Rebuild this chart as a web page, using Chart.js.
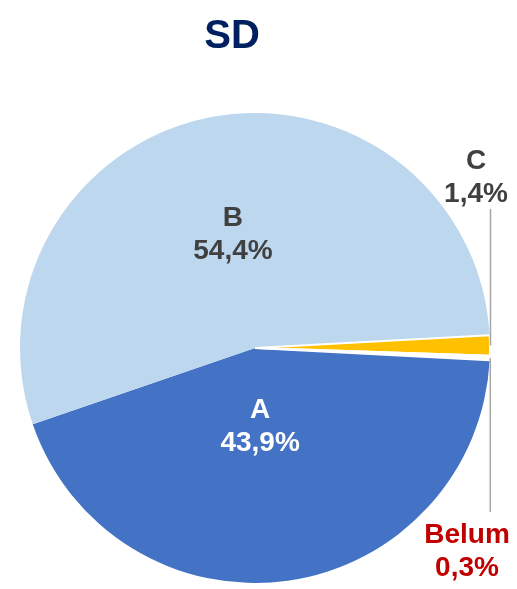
<!DOCTYPE html>
<html>
<head>
<meta charset="utf-8">
<script src="https://cdn.jsdelivr.net/npm/chart.js@4"></script>
<style>
  html, body { margin: 0; padding: 0; background: #fff; }
  #wrap { width: 517px; height: 589px; }
</style>
</head>
<body>
<div id="wrap"><canvas id="sdChart" width="517" height="589"></canvas></div>
<script>
// data
const titleText  = 'SD';
const categories = ['A', 'B', 'C', 'Belum'];
const values     = [43.9, 54.4, 1.4, 0.3];
const valueText  = ['43,9%', '54,4%', '1,4%', '0,3%'];

const sliceColors = ['#4472C4', '#BDD7EE', '#FFC000', '#FFFFFF'];
const sliceBorder = [0, 0, 2, 2];
const labelColors = ['#FFFFFF', '#404040', '#404040', '#C00000'];
const FONT = '"Liberation Sans", Arial, sans-serif';

// label placement per slice: inside ones use a radius fraction,
// outside ones sit beside a vertical leader line
const labelPlace = [
  { inside: true,  r: 0.34, dx: -6 },
  { inside: true,  r: 0.49, dx: 0 },
  { inside: false, x: 476, y: 178, lineTo: 209 },
  { inside: false, x: 467, y: 552, lineTo: 512 }
];

const labelPlugin = {
  id: 'sliceLabels',
  afterDraw(chart) {
    const ctx  = chart.ctx;
    const arcs = chart.getDatasetMeta(0).data;

    ctx.save();
    // title
    ctx.font = 'bold 40px ' + FONT;
    ctx.fillStyle = '#002060';
    ctx.textAlign = 'center';
    ctx.textBaseline = 'alphabetic';
    ctx.fillText(titleText, 232, 48);

    ctx.font = 'bold 28px ' + FONT;
    ctx.textBaseline = 'middle';
    arcs.forEach((arc, i) => {
      const p   = arc.getProps(['x', 'y', 'startAngle', 'endAngle', 'outerRadius'], true);
      const mid = (p.startAngle + p.endAngle) / 2;
      const pl  = labelPlace[i];
      let lx, ly;
      if (pl.inside) {
        lx = p.x + Math.cos(mid) * p.outerRadius * pl.r + pl.dx;
        ly = p.y + Math.sin(mid) * p.outerRadius * pl.r;
      } else {
        const ex = p.x + Math.cos(mid) * p.outerRadius;
        const ey = p.y + Math.sin(mid) * p.outerRadius;
        ctx.strokeStyle = '#A6A6A6';
        ctx.lineWidth = 1.5;
        ctx.beginPath();
        ctx.moveTo(ex + 0.5, ey);
        ctx.lineTo(ex + 0.5, pl.lineTo);
        ctx.stroke();
        lx = pl.x;
        ly = pl.y;
      }
      ctx.fillStyle = labelColors[i];
      ctx.fillText(categories[i], lx, ly - 16.5);
      ctx.fillText(valueText[i], lx, ly + 16.5);
    });
    ctx.restore();
  }
};

new Chart(document.getElementById('sdChart').getContext('2d'), {
  type: 'pie',
  data: {
    labels: categories,
    datasets: [{
      data: values,
      backgroundColor: sliceColors,
      borderColor: '#FFFFFF',
      borderWidth: sliceBorder,
      hoverOffset: 0
    }]
  },
  options: {
    responsive: false,
    animation: false,
    rotation: 93,
    layout: { padding: { left: 19, right: 26, top: 112, bottom: 5 } },
    plugins: {
      legend: { display: false },
      tooltip: { enabled: false },
      title: { display: false }
    }
  },
  plugins: [labelPlugin]
});
</script>
</body>
</html>
